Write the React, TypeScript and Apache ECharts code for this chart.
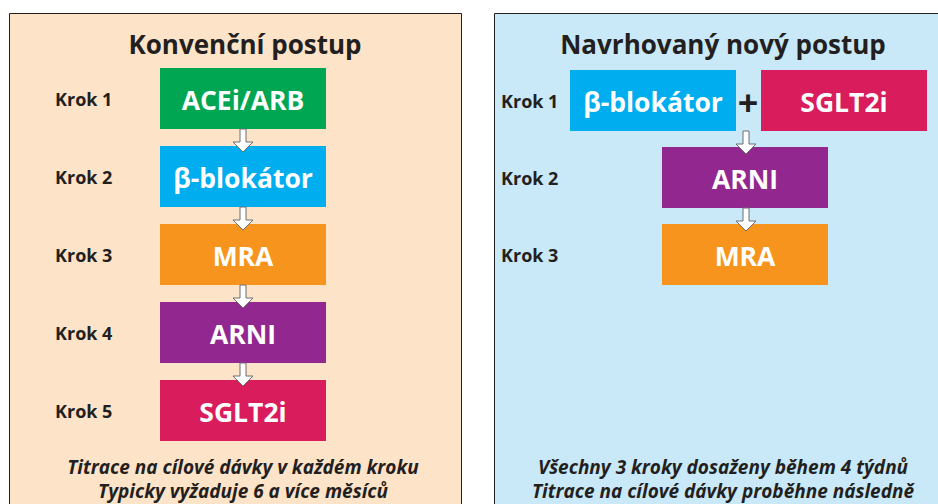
import React, { useEffect, useRef } from "react";
import * as echarts from "echarts";

const leftTitle = "Konvenční postup";
const rightTitle = "Navrhovaný nový postup";
const stepLabels = ["Krok 1", "Krok 2", "Krok 3", "Krok 4", "Krok 5"];
const leftSteps = ["ACEi/ARB", "β-blokátor", "MRA", "ARNI", "SGLT2i"];
const leftColors = ["#00A651", "#00AEEF", "#F7941D", "#92278F", "#D91C5C"];
const rightFirst = ["β-blokátor", "SGLT2i"];
const rightFirstColors = ["#00AEEF", "#D91C5C"];
const rightSteps = ["ARNI", "MRA"];
const rightColors = ["#92278F", "#F7941D"];
const leftFooter = ["Titrace na cílové dávky v každém kroku", "Typicky vyžaduje 6 a více měsíců"];
const rightFooter = ["Všechny 3 kroky dosaženy během 4 týdnů", "Titrace na cílové dávky proběhne následně"];

const FONT = "'Open Sans', 'Noto Sans', sans-serif";
const TXT = "#231F20";

function arrow(cx: number, y0: number) {
  const sw = 3;
  const hw = 10;
  return {
    type: "polygon",
    z: 10,
    shape: {
      points: [
        [cx - sw, y0],
        [cx + sw, y0],
        [cx + sw, y0 + 13],
        [cx + hw, y0 + 13],
        [cx, y0 + 23],
        [cx - hw, y0 + 13],
        [cx - sw, y0 + 13],
      ],
    },
    style: { fill: "#ffffff", stroke: "#6d6e71", lineWidth: 1 },
  };
}

function box(x: number, y: number, w: number, h: number, color: string, label: string) {
  return [
    { type: "rect", z: 5, shape: { x, y, width: w, height: h }, style: { fill: color } },
    {
      type: "text",
      z: 6,
      x: x + w / 2,
      y: y + h / 2 + 1,
      style: {
        text: label,
        fill: "#ffffff",
        font: `bold 26.5px ${FONT}`,
        align: "center",
        verticalAlign: "middle",
      },
    },
  ];
}

function buildGraphics() {
  const els: any[] = [];
  // panels
  els.push({ type: "rect", shape: { x: 9.5, y: 13.5, width: 452, height: 500 }, style: { fill: "#FDE3C8", stroke: "#231F20", lineWidth: 1 } });
  els.push({ type: "rect", shape: { x: 494.5, y: 13.5, width: 460, height: 500 }, style: { fill: "#C9E9F8", stroke: "#231F20", lineWidth: 1 } });
  // titles
  els.push({ type: "text", x: 245, y: 44, style: { text: leftTitle, fill: TXT, font: `bold 26px ${FONT}`, align: "center", verticalAlign: "middle" } });
  els.push({ type: "text", x: 723, y: 44, style: { text: rightTitle, fill: TXT, font: `bold 26px ${FONT}`, align: "center", verticalAlign: "middle" } });

  // left column
  const lx = 160, lw = 166, lh = 61, ly0 = 68, pitch = 78;
  leftSteps.forEach((s, i) => {
    const y = ly0 + i * pitch;
    els.push(...box(lx, y, lw, lh, leftColors[i], s));
    els.push({ type: "text", x: 55, y: y + lh / 2, style: { text: stepLabels[i], fill: TXT, font: `bold 18px ${FONT}`, verticalAlign: "middle" } });
    if (i < leftSteps.length - 1) els.push(arrow(lx + lw / 2, y + lh));
  });

  // right column
  const ry0 = 70;
  els.push(...box(570, ry0, 166, lh, rightFirstColors[0], rightFirst[0]));
  els.push(...box(761, ry0, 166, lh, rightFirstColors[1], rightFirst[1]));
  els.push({ type: "text", x: 748, y: ry0 + lh / 2 + 2, style: { text: "+", fill: TXT, font: `bold 36px ${FONT}`, align: "center", verticalAlign: "middle" } });
  els.push({ type: "text", x: 501, y: ry0 + lh / 2, style: { text: stepLabels[0], fill: TXT, font: `bold 18px ${FONT}`, verticalAlign: "middle" } });
  els.push(arrow(746, ry0 + lh));
  rightSteps.forEach((s, i) => {
    const y = 147 + i * 77;
    els.push(...box(662, y, 166, lh, rightColors[i], s));
    els.push({ type: "text", x: 501, y: y + lh / 2, style: { text: stepLabels[i + 1], fill: TXT, font: `bold 18px ${FONT}`, verticalAlign: "middle" } });
    if (i < rightSteps.length - 1) els.push(arrow(746, y + lh));
  });

  // footers
  els.push({ type: "text", x: 243, y: 479, style: { text: leftFooter.join("\n"), fill: TXT, font: `italic bold 19px ${FONT}`, lineHeight: 24, align: "center", verticalAlign: "middle" } });
  els.push({ type: "text", x: 723, y: 479, style: { text: rightFooter.join("\n"), fill: TXT, font: `italic bold 19px ${FONT}`, lineHeight: 24, align: "center", verticalAlign: "middle" } });
  return els;
}

export default function App() {
  const ref = useRef<HTMLDivElement>(null);
  useEffect(() => {
    if (!ref.current) return;
    const chart = echarts.init(ref.current, undefined, { renderer: "svg" });
    chart.setOption({
      animation: false,
      backgroundColor: "#ffffff",
      graphic: { elements: buildGraphics() },
    });
    return () => chart.dispose();
  }, []);
  return <div ref={ref} style={{ position: "fixed", left: 0, top: 0, width: 938, height: 504 }} />;
}
